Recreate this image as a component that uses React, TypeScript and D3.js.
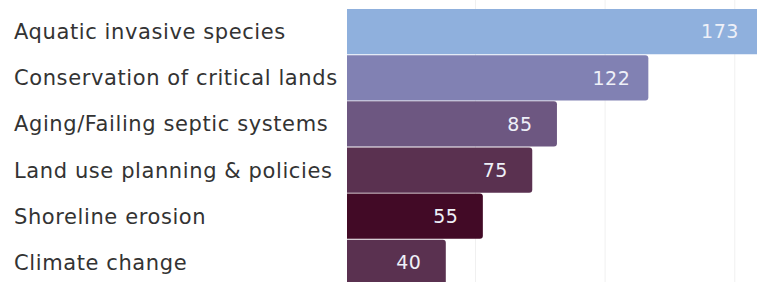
import React, { useEffect, useRef } from "react";
import * as d3 from "d3";

const categories = [
  "Aquatic invasive species",
  "Conservation of critical lands",
  "Aging/Failing septic systems",
  "Land use planning & policies",
  "Shoreline erosion",
  "Climate change",
];
const values = [173, 122, 85, 75, 55, 40];
const barColors = ["#8fb0dd", "#8181b3", "#6d5781", "#5a3150", "#420a26", "#5a3150"];
const gridTicks = [52, 104.5, 157];

export default function App() {
  const svgRef = useRef<SVGSVGElement>(null);

  useEffect(() => {
    const svg = d3.select(svgRef.current);
    svg.selectAll("*").remove();

    const width = 757;
    const height = 282;
    const left = 347;

    const x = d3.scaleLinear().domain([0, 100]).range([left, left + 247]);
    const y = d3
      .scaleBand<string>()
      .domain(categories)
      .range([9, 9 + 46 * categories.length])
      .paddingInner(0.02)
      .paddingOuter(0);

    // grid lines
    svg
      .append("g")
      .selectAll("line")
      .data(gridTicks)
      .join("line")
      .attr("x1", (d) => x(d))
      .attr("x2", (d) => x(d))
      .attr("y1", 0)
      .attr("y2", height)
      .attr("stroke", "#f0f0f0")
      .attr("stroke-width", 1);

    // bars (rounded right side)
    const r = 3;
    svg
      .append("g")
      .selectAll("path")
      .data(values)
      .join("path")
      .attr("fill", (d, i) => barColors[i])
      .attr("d", (d, i) => {
        const x0 = x(0);
        const x1 = x(d);
        const y0 = y(categories[i])!;
        const h = y.bandwidth();
        return `M${x0},${y0}H${x1 - r}Q${x1},${y0} ${x1},${y0 + r}V${y0 + h - r}Q${x1},${y0 + h} ${x1 - r},${y0 + h}H${x0}Z`;
      });

    // value labels
    svg
      .append("g")
      .selectAll("text")
      .data(values)
      .join("text")
      .attr("x", (d) => Math.min(x(d), width) - 37)
      .attr("y", (d, i) => y(categories[i])! + y.bandwidth() / 2)
      .attr("dy", "0.36em")
      .attr("text-anchor", "middle")
      .style("font-family", "'DejaVu Sans', sans-serif")
      .style("font-size", "19px")
      .style("letter-spacing", "0.5px")
      .style("fill", "#eef0f8")
      .text((d) => d);

    // category labels
    svg
      .append("g")
      .selectAll("text")
      .data(categories)
      .join("text")
      .attr("x", 14)
      .attr("y", (d) => y(d)! + y.bandwidth() / 2)
      .attr("dy", "0.36em")
      .style("font-family", "'DejaVu Sans', sans-serif")
      .style("font-size", "21px")
      .style("letter-spacing", "0.6px")
      .style("fill", "#333333")
      .text((d) => d);

    svg.attr("width", width).attr("height", height);
  }, []);

  return (
    <svg
      ref={svgRef}
      width="757"
      height="282"
      style={{ position: "absolute", left: 0, top: 0, background: "#ffffff" }}
    ></svg>
  );
}
